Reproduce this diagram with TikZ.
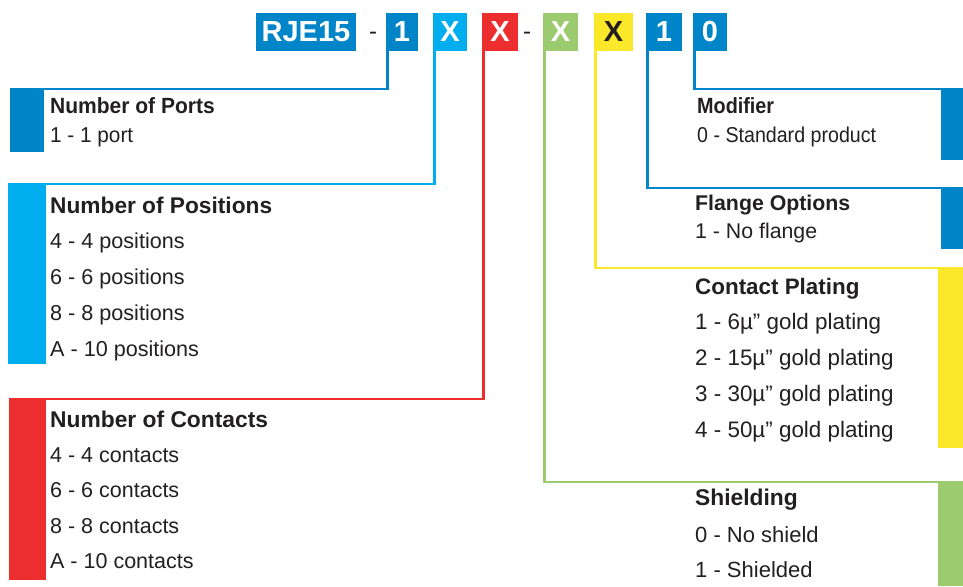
\documentclass[tikz,border=0pt]{standalone}
\usepackage{fontspec}
\setmainfont{Liberation Sans}
\definecolor{cBlue}{RGB}{0,133,200}
\definecolor{cCyan}{RGB}{0,174,239}
\definecolor{cRed}{RGB}{237,46,47}
\definecolor{cGreen}{RGB}{156,203,111}
\definecolor{cYellow}{RGB}{252,232,43}
\definecolor{cText}{RGB}{35,31,32}
\begin{document}
\begin{tikzpicture}[x=1pt,y=-1pt,
  hdr/.style={fill=#1, text=white, font=\fontsize{29}{29}\selectfont\bfseries, minimum height=38pt, inner sep=0pt},
  sep/.style={text=cText, font=\fontsize{24}{24}\selectfont, inner sep=0pt},
  barbox/.style={fill=#1, inner sep=0pt, draw=none},
  conn/.style={draw=#1, line width=2.5pt},
  ttl/.style={font=\fontsize{#1}{#1}\selectfont\bfseries, text=cText, inner sep=0pt, anchor=base west},
  ttl/.default=22.5,
  itm/.style={font=\fontsize{#1}{#1}\selectfont, text=cText, inner sep=0pt, anchor=base west},
  itm/.default=21.5,
  narrow/.style={xscale=#1, transform shape}]
\useasboundingbox (0,0) rectangle (963,586);

% header
\node[hdr=cBlue, minimum width=100pt] (rje) at (306,32) {RJE15};
\node[sep] (dashA) at (373,36) {-};
\node[hdr=cBlue, minimum width=32pt] (one) at (402,32) {1};
\node[hdr=cCyan, minimum width=34pt] (xpos) at (450,32) {X};
\node[hdr=cRed, minimum width=36pt] (xcon) at (500,32) {X};
\node[sep] (dashB) at (527,36) {-};
\node[hdr=cGreen, minimum width=35pt] (xshd) at (560.5,32) {X};
\node[hdr=cYellow, minimum width=39pt, text=cText] (xplt) at (613.5,32) {X};
\node[hdr=cBlue, minimum width=36pt] (oneb) at (664,32) {1};
\node[hdr=cBlue, minimum width=34pt] (zero) at (710,32) {0};

% left bars
\node[barbox=cBlue, anchor=north west, minimum width=34pt, minimum height=63pt] (portsbar) at (10,89) {};
\node[barbox=cCyan, anchor=north west, minimum width=38pt, minimum height=180pt] (posbar) at (8,184) {};
\node[barbox=cRed, anchor=north west, minimum width=37pt, minimum height=181pt] (conbar) at (9,399) {};

% right bars
\node[barbox=cBlue, anchor=north east, minimum width=22pt, minimum height=71pt] (modbar) at (963,89) {};
\node[barbox=cBlue, anchor=north east, minimum width=22pt, minimum height=61pt] (flgbar) at (963,188) {};
\node[barbox=cYellow, anchor=north east, minimum width=25pt, minimum height=180pt] (pltbar) at (963,268) {};
\node[barbox=cGreen, anchor=north east, minimum width=25pt, minimum height=104pt] (shdbar) at (963,482) {};

% connectors
\draw[conn=cBlue] ([xshift=1.5pt]one.south west) |- (portsbar.north west);
\draw[conn=cCyan] ([xshift=1.5pt]xpos.south west) |- (posbar.north west);
\draw[conn=cRed] ([xshift=1.5pt]xcon.south west) |- (conbar.north west);
\draw[conn=cGreen] ([xshift=1.5pt]xshd.south west) |- (shdbar.north east);
\draw[conn=cYellow] ([xshift=1.5pt]xplt.south west) |- (pltbar.north east);
\draw[conn=cBlue] ([xshift=1.5pt]oneb.south west) |- (flgbar.north east);
\draw[conn=cBlue] ([xshift=1.5pt]zero.south west) |- (modbar.north east);

% left texts
\node[ttl=22, narrow=0.955] (portsT) at (50,113) {Number of Ports};
\node[itm=21.5, narrow=0.965] (ports1) at (50,142) {1 - 1 port};
\node[ttl=22.7] (posT) at (50,213) {Number of Positions};
\node[itm=21.6] (pos4) at (50,248) {4 - 4 positions};
\node[itm=21.6] (pos6) at (50,284) {6 - 6 positions};
\node[itm=21.6] (pos8) at (50,320) {8 - 8 positions};
\node[itm=21.6] (posA) at (50,356) {A - 10 positions};
\node[ttl=22.8] (conT) at (50,427) {Number of Contacts};
\node[itm] (con4) at (50,462) {4 - 4 contacts};
\node[itm] (con6) at (50,497) {6 - 6 contacts};
\node[itm] (con8) at (50,533) {8 - 8 contacts};
\node[itm] (conA) at (50,568) {A - 10 contacts};

% right texts
\node[ttl=22, narrow=0.9] (modT) at (697,113) {Modifier};
\node[itm=21.5, narrow=0.913] (mod0) at (697,142) {0 - Standard product};
\node[ttl=21.3] (flgT) at (695,210) {Flange Options};
\node[itm=21.3] (flg1) at (695,238) {1 - No flange};
\node[ttl=22.4] (pltT) at (695,294) {Contact Plating};
\node[itm=22.4] (plt1) at (695,329) {1 - 6µ” gold plating};
\node[itm=22.4] (plt2) at (695,365) {2 - 15µ” gold plating};
\node[itm=22.4] (plt3) at (695,401) {3 - 30µ” gold plating};
\node[itm=22.4] (plt4) at (695,437) {4 - 50µ” gold plating};
\node[ttl=22.8] (shdT) at (695,505) {Shielding};
\node[itm=22] (shd0) at (695,542) {0 - No shield};
\node[itm=22] (shd1) at (695,577) {1 - Shielded};
\end{tikzpicture}
\end{document}
